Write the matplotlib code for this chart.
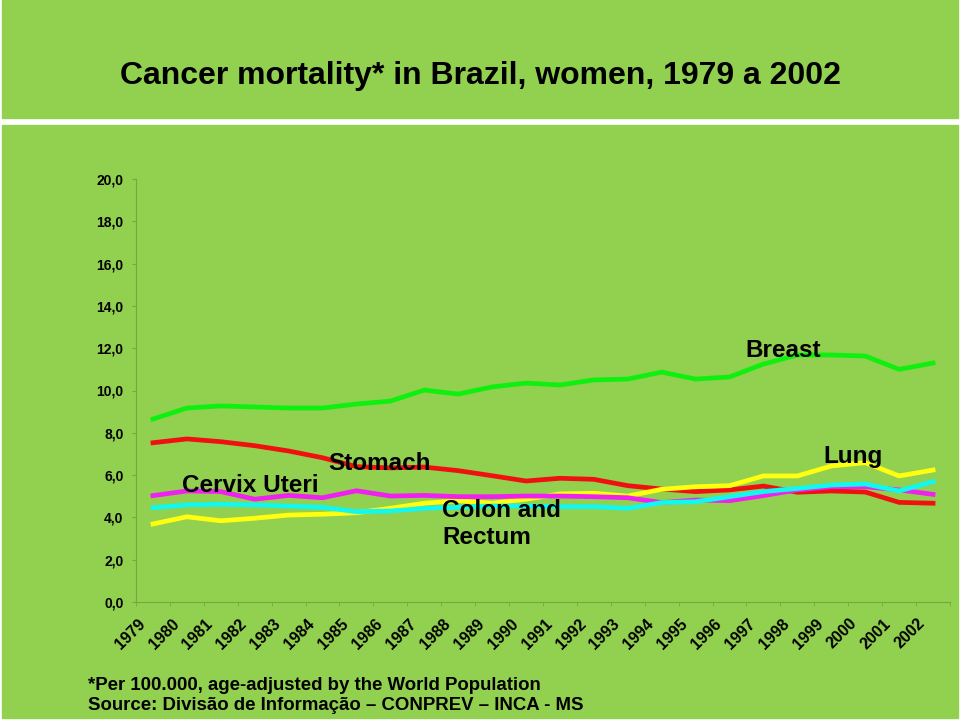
import numpy as np
import matplotlib.pyplot as plt
import matplotlib.transforms as mtransforms
from matplotlib.patches import Rectangle

plt.rcParams['font.family'] = ['Liberation Sans', 'DejaVu Sans']

# Dados
anos = [str(a) for a in range(1979, 2003)]
breast = [8.65, 9.17, 9.27, 9.22, 9.17, 9.17, 9.36, 9.50, 10.02, 9.83, 10.17, 10.35,
          10.26, 10.50, 10.54, 10.87, 10.54, 10.64, 11.25, 11.68, 11.68, 11.63, 11.00, 11.30]
stomach = [7.53, 7.71, 7.58, 7.39, 7.14, 6.82, 6.40, 6.34, 6.38, 6.21, 5.97, 5.72,
           5.85, 5.80, 5.50, 5.34, 5.22, 5.30, 5.48, 5.19, 5.25, 5.20, 4.71, 4.67]
cervix = [5.03, 5.25, 5.22, 4.86, 5.04, 4.93, 5.26, 5.01, 5.04, 4.98, 4.98, 5.01,
          5.01, 4.98, 4.93, 4.70, 4.82, 4.79, 5.03, 5.30, 5.45, 5.45, 5.30, 5.09]
colon = [4.46, 4.59, 4.62, 4.59, 4.54, 4.48, 4.27, 4.30, 4.43, 4.48, 4.54, 4.54,
         4.51, 4.51, 4.43, 4.70, 4.74, 4.98, 5.22, 5.37, 5.53, 5.58, 5.25, 5.69]
lung = [3.69, 4.03, 3.84, 3.96, 4.11, 4.15, 4.22, 4.43, 4.67, 4.79, 4.67, 4.86,
        5.11, 5.14, 5.01, 5.33, 5.45, 5.50, 5.96, 5.96, 6.43, 6.59, 5.96, 6.24]
yticks = np.arange(0, 21, 2)

verde = '#92d050'
fig = plt.figure(figsize=(9.6, 7.2), dpi=100, facecolor='white')
fig.patches.append(Rectangle((2/960, 1 - 117.5/720), 956/960, 117.5/720,
                             transform=fig.transFigure, color=verde, zorder=0))
fig.patches.append(Rectangle((2/960, 2/720), 956/960, (718 - 125)/720,
                             transform=fig.transFigure, color=verde, zorder=0))

fig.text(0.5, 1 - 76/720, 'Cancer mortality* in Brazil, women, 1979 a 2002',
         ha='center', va='center', fontsize=23, fontweight='bold')

ax = fig.add_axes([136/960, 1 - 602/720, (950 - 136)/960, (602 - 179)/720])
ax.set_zorder(2)
ax.set_facecolor('none')

x = np.arange(len(anos))
lw = 3.4
ax.plot(x, breast, color='#10f010', lw=lw)
ax.plot(x, stomach, color='#f01010', lw=lw)
ax.plot(x, lung, color='#ffff10', lw=lw)
ax.plot(x, cervix, color='#f020f0', lw=lw)
ax.plot(x, colon, color='#10f8f0', lw=lw)

ax.set_xlim(-0.5, len(anos) - 0.5)
ax.set_ylim(0, 20)
ax.set_yticks(yticks)
ax.set_yticklabels([f'{v:.1f}'.replace('.', ',') for v in yticks],
                   fontsize=10, fontweight='bold')
ax.set_xticks(x)
ax.set_xticklabels(anos, rotation=45, ha='right', fontsize=11.5, fontweight='bold')
ax.set_xticks(np.arange(-0.5, len(anos)), minor=True)
ax.tick_params(axis='x', which='major', length=0, pad=10)
ax.tick_params(axis='x', which='minor', length=3, color='#74a840')
ax.tick_params(axis='y', length=3, color='#74a840', pad=6)
desloc = mtransforms.ScaledTranslation(-5/100, 0, fig.dpi_scale_trans)
for lab in ax.get_xticklabels():
    lab.set_transform(lab.get_transform() + desloc)
for s in ['top', 'right']:
    ax.spines[s].set_visible(False)
for s in ['left', 'bottom']:
    ax.spines[s].set_color('#74a840')

rot = dict(fontsize=17.5, fontweight='bold', va='center', ha='left')
ax.text(17.46, 11.87, 'Breast', **rot)
ax.text(19.76, 6.90, 'Lung', **rot)
ax.text(5.16, 6.57, 'Stomach', **rot)
ax.text(0.86, 5.53, 'Cervix Uteri', **rot)
ax.text(8.53, 3.69, 'Colon and\nRectum', linespacing=1.25, **rot)

fig.text(88/960, 1 - 685/720, '*Per 100.000, age-adjusted by the World Population',
         fontsize=13.4, fontweight='bold', va='center')
fig.text(88/960, 1 - 706/720, 'Source: Divisão de Informação – CONPREV – INCA - MS',
         fontsize=13.4, fontweight='bold', va='center')

fig.savefig('out.png', dpi=100, facecolor=fig.get_facecolor())
